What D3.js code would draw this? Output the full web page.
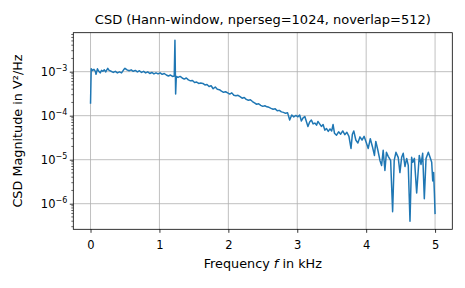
<!DOCTYPE html>
<html>
<head>
<meta charset="utf-8">
<script src="https://cdn.jsdelivr.net/npm/d3@7"></script>
<style>
  body { margin: 0; background: #ffffff; }
  text { font-family: "DejaVu Sans", sans-serif; }
</style>
</head>
<body>
<div id="csd_plot"></div>
<script>
// frequency bins (kHz) and CSD magnitude (V^2/Hz)
const freqKHz = [
  0.000, 0.010, 0.030, 0.050, 0.070, 0.080, 0.100, 0.120, 0.140, 0.160,
  0.180, 0.200, 0.220, 0.250, 0.270, 0.300, 0.330, 0.360, 0.390, 0.420,
  0.450, 0.480, 0.500, 0.530, 0.560, 0.590, 0.620, 0.650, 0.680, 0.710,
  0.740, 0.770, 0.800, 0.830, 0.860, 0.890, 0.920, 0.950, 0.980, 1.010,
  1.040, 1.070, 1.100, 1.130, 1.160, 1.190, 1.215, 1.225, 1.235, 1.245,
  1.270, 1.300, 1.330, 1.360, 1.390, 1.420, 1.450, 1.480, 1.510, 1.540,
  1.570, 1.600, 1.630, 1.660, 1.690, 1.720, 1.750, 1.780, 1.810, 1.840,
  1.870, 1.900, 1.930, 1.960, 1.990, 2.020, 2.050, 2.080, 2.110, 2.140,
  2.170, 2.200, 2.230, 2.260, 2.290, 2.320, 2.350, 2.380, 2.410, 2.440,
  2.470, 2.500, 2.530, 2.560, 2.590, 2.620, 2.650, 2.680, 2.710, 2.740,
  2.770, 2.800, 2.830, 2.860, 2.890, 2.920, 2.950, 2.980, 3.010, 3.035,
  3.060, 3.085, 3.110, 3.130, 3.155, 3.180, 3.205, 3.230, 3.255, 3.280,
  3.300, 3.325, 3.350, 3.375, 3.400, 3.425, 3.450, 3.475, 3.500, 3.520,
  3.540, 3.570, 3.600, 3.630, 3.660, 3.690, 3.720, 3.750, 3.780, 3.800,
  3.820, 3.850, 3.880, 3.910, 3.940, 3.970, 4.000, 4.030, 4.060, 4.090,
  4.120, 4.140, 4.170, 4.200, 4.224, 4.247, 4.272, 4.294, 4.320, 4.355,
  4.384, 4.407, 4.432, 4.465, 4.490, 4.515, 4.538, 4.563, 4.588, 4.611,
  4.636, 4.660, 4.675, 4.700, 4.733, 4.771, 4.796, 4.820, 4.844, 4.869,
  4.902, 4.927, 4.951, 4.966, 4.979, 4.990, 5.000
];
const csdMag = [
  1.87e-4, 1.16e-3, 1.07e-3, 1.13e-3, 1.02e-3, 8.7e-4, 1.16e-3, 1.02e-3, 9.4e-4, 1.07e-3,
  1.02e-3, 1.10e-3, 9.9e-4, 1.19e-3, 1.07e-3, 1.02e-3, 9.6e-4, 1.02e-3, 9.4e-4, 9.9e-4,
  9.4e-4, 1.10e-3, 1.19e-3, 1.10e-3, 1.05e-3, 1.10e-3, 1.02e-3, 1.07e-3, 9.9e-4, 1.05e-3,
  9.6e-4, 1.02e-3, 9.4e-4, 9.9e-4, 9.1e-4, 9.6e-4, 8.9e-4, 9.4e-4, 8.9e-4, 9.4e-4,
  8.7e-4, 9.1e-4, 8.4e-4, 8.0e-4, 8.4e-4, 7.8e-4, 8.0e-4, 5.2e-3, 3.1e-4, 7.8e-4,
  7.4e-4, 7.8e-4, 7.2e-4, 6.8e-4, 7.2e-4, 6.5e-4, 6.2e-4, 6.3e-4, 5.7e-4, 5.8e-4,
  5.4e-4, 5.5e-4, 5.4e-4, 5.0e-4, 5.1e-4, 4.6e-4, 4.8e-4, 4.1e-4, 4.5e-4, 4.0e-4,
  3.9e-4, 3.6e-4, 3.4e-4, 3.5e-4, 3.3e-4, 3.1e-4, 3.3e-4, 2.9e-4, 2.85e-4, 2.9e-4,
  2.7e-4, 2.5e-4, 2.6e-4, 2.35e-4, 2.25e-4, 2.3e-4, 2.1e-4, 1.95e-4, 1.82e-4, 1.87e-4,
  1.72e-4, 1.63e-4, 1.68e-4, 1.59e-4, 1.55e-4, 1.47e-4, 1.40e-4, 1.43e-4, 1.29e-4, 1.32e-4,
  1.22e-4, 1.19e-4, 1.13e-4, 1.16e-4, 8.0e-5, 1.04e-4, 9.4e-5, 1.01e-4, 9.4e-5, 1.04e-4,
  7.6e-5, 8.9e-5, 9.6e-5, 7.6e-5, 5.7e-5, 7.2e-5, 8.0e-5, 6.5e-5, 6.8e-5, 6.1e-5,
  7.4e-5, 6.5e-5, 5.7e-5, 6.3e-5, 4.7e-5, 5.1e-5, 4.4e-5, 5.0e-5, 4.5e-5, 6.3e-5,
  4.0e-5, 3.6e-5, 4.3e-5, 3.8e-5, 4.5e-5, 3.7e-5, 4.2e-5, 3.4e-5, 1.8e-5, 3.8e-5,
  4.5e-5, 2.8e-5, 2.4e-5, 3.3e-5, 2.8e-5, 3.4e-5, 2.5e-5, 1.8e-5, 3.0e-5, 2.0e-5,
  1.25e-5, 2.6e-5, 1.64e-5, 9.6e-6, 7.4e-6, 1.64e-5, 5.7e-6, 1.47e-5, 1.19e-5, 9.6e-6,
  6.6e-7, 9.6e-6, 1.47e-5, 1.13e-5, 5.1e-6, 1.13e-5, 1.40e-5, 7.0e-6, 1.07e-5, 7.4e-6,
  4.0e-7, 1.13e-5, 8.7e-6, 1.07e-5, 1.75e-6, 1.25e-5, 7.8e-6, 1.40e-5, 1.29e-6, 1.07e-5,
  1.47e-5, 1.13e-5, 8.7e-6, 3.3e-6, 5.1e-6, 1.77e-6, 5.8e-7
];
const xTicks = [0, 1, 2, 3, 4, 5];
const yTickExps = [-6, -5, -4, -3];

const fig_w = 465, fig_h = 288;
const margin = {top: 32.7, right: 12.7, bottom: 58.7, left: 73.3};
const width = fig_w - margin.left - margin.right;
const height = fig_h - margin.top - margin.bottom;

const svg = d3.select("#csd_plot")
  .append("svg")
    .attr("width", fig_w)
    .attr("height", fig_h)
  .append("g")
    .attr("transform", `translate(${margin.left}, ${margin.top})`);

const x = d3.scaleLinear()
  .domain([-0.25, 5.25])
  .range([0, width]);

const y = d3.scaleLog()
  .domain([Math.pow(10, -6.582), Math.pow(10, -2.114)])
  .range([height, 0]);

// grid
svg.append("g")
  .selectAll("line")
  .data(xTicks)
  .join("line")
    .attr("x1", d => x(d)).attr("x2", d => x(d))
    .attr("y1", 0).attr("y2", height)
    .attr("stroke", "#b0b0b0")
    .attr("stroke-width", 0.8);

svg.append("g")
  .selectAll("line")
  .data(yTickExps)
  .join("line")
    .attr("x1", 0).attr("x2", width)
    .attr("y1", d => y(Math.pow(10, d))).attr("y2", d => y(Math.pow(10, d)))
    .attr("stroke", "#b0b0b0")
    .attr("stroke-width", 0.8);

// the CSD line
const csd = freqKHz.map((f, i) => ({f: f, v: csdMag[i]}));
const line = d3.line()
  .x(d => x(d.f))
  .y(d => y(d.v));

svg.append("path")
  .datum(csd)
  .attr("d", line)
  .attr("fill", "none")
  .attr("stroke", "#1f77b4")
  .attr("stroke-width", 1.5)
  .attr("stroke-linejoin", "round")
  .attr("stroke-linecap", "butt");

// x axis
const xAxis = svg.append("g")
  .attr("transform", `translate(0, ${height})`)
  .call(d3.axisBottom(x).tickValues(xTicks).tickSize(3.5).tickSizeOuter(0).tickFormat(d3.format("d")));
xAxis.select(".domain").remove();
xAxis.selectAll("line").attr("stroke", "#000").attr("stroke-width", 0.8);
xAxis.selectAll("text")
  .attr("y", 20).attr("dy", null)
  .style("font-size", "11.5px")
  .attr("fill", "#000");

// y axis, major + minor ticks
const minorVals = [];
for (let e = -7; e <= -2; e++) {
  for (let k = 2; k <= 9; k++) {
    const v = k * Math.pow(10, e);
    if (v >= y.domain()[0] && v <= y.domain()[1]) minorVals.push(v);
  }
}
svg.append("g")
  .selectAll("line")
  .data(minorVals)
  .join("line")
    .attr("x1", -2).attr("x2", 0)
    .attr("y1", d => y(d)).attr("y2", d => y(d))
    .attr("stroke", "#000")
    .attr("stroke-width", 0.6);

const yAxis = svg.append("g")
  .call(d3.axisLeft(y).tickValues(yTickExps.map(e => Math.pow(10, e))).tickSize(3.5).tickSizeOuter(0).tickFormat(""));
yAxis.select(".domain").remove();
yAxis.selectAll("line").attr("stroke", "#000").attr("stroke-width", 0.8);

const yLabels = svg.append("g")
  .selectAll("text")
  .data(yTickExps)
  .join("text")
    .attr("x", -6)
    .attr("y", d => y(Math.pow(10, d)) + 4.5)
    .attr("text-anchor", "end")
    .style("font-size", "11.5px")
    .attr("fill", "#000");
yLabels.append("tspan").text("10");
yLabels.append("tspan")
  .attr("dy", -5)
  .style("font-size", "8px")
  .text(d => "\u2212" + Math.abs(d));

// frame
svg.append("rect")
  .attr("width", width)
  .attr("height", height)
  .attr("fill", "none")
  .attr("stroke", "#000")
  .attr("stroke-width", 0.8);

// title
svg.append("text")
  .attr("x", width / 2)
  .attr("y", -8.5)
  .attr("text-anchor", "middle")
  .style("font-size", "13px")
  .text("CSD (Hann-window, nperseg=1024, noverlap=512)");

// x label
const xLabel = svg.append("text")
  .attr("x", width / 2)
  .attr("y", height + 38.5)
  .attr("text-anchor", "middle")
  .style("font-size", "12.8px");
xLabel.append("tspan").text("Frequency ");
xLabel.append("tspan").style("font-style", "italic").text("f");
xLabel.append("tspan").text(" in kHz");

// y label
svg.append("text")
  .attr("transform", `translate(${-51}, ${height / 2}) rotate(-90)`)
  .attr("text-anchor", "middle")
  .style("font-size", "12.8px")
  .text("CSD Magnitude in V\u00b2/Hz");
</script>
</body>
</html>
